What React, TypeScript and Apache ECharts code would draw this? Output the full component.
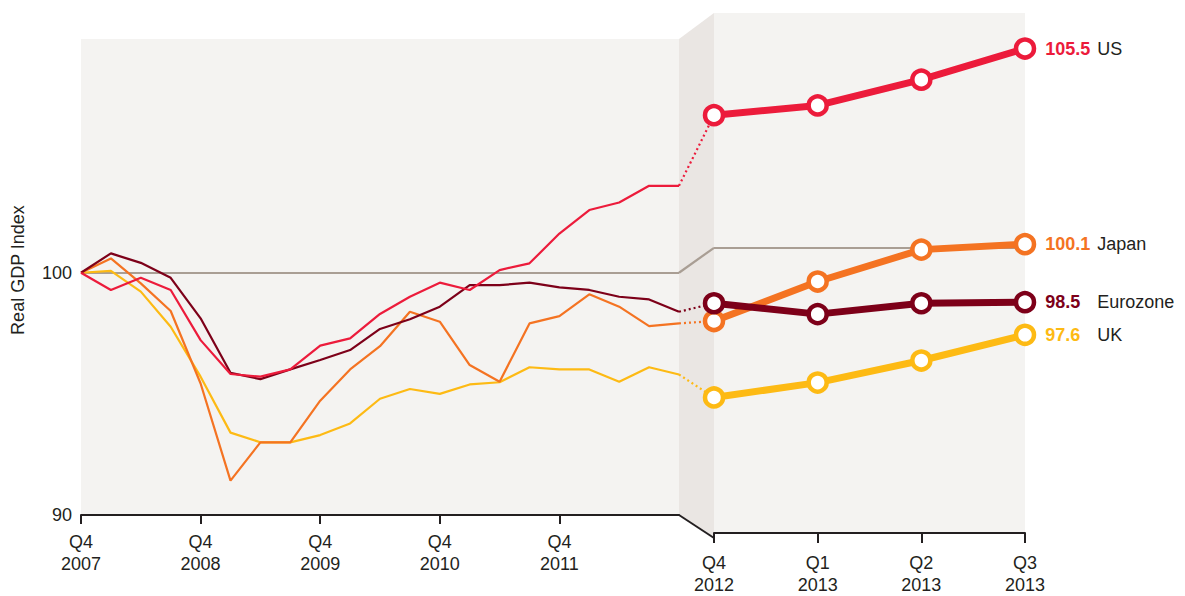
import React, { useEffect, useRef } from 'react';
import * as echarts from 'echarts';

// ---- Data ----
const leftQuarters = [
  'Q4\n2007', 'Q1\n2008', 'Q2\n2008', 'Q3\n2008', 'Q4\n2008',
  'Q1\n2009', 'Q2\n2009', 'Q3\n2009', 'Q4\n2009',
  'Q1\n2010', 'Q2\n2010', 'Q3\n2010', 'Q4\n2010',
  'Q1\n2011', 'Q2\n2011', 'Q3\n2011', 'Q4\n2011',
  'Q1\n2012', 'Q2\n2012', 'Q3\n2012', 'Q4\n2012',
];
const rightQuarters = ['Q4\n2012', 'Q1\n2013', 'Q2\n2013', 'Q3\n2013'];
const yTickValues = [90, 100];
const baselineValue = 100;

const usLeft = [100, 99.29, 99.79, 99.29, 97.22, 95.82, 95.71, 96.01, 96.99, 97.29, 98.3, 99.01, 99.59, 99.29, 100.11, 100.39, 101.62, 102.59, 102.9, 103.59, 103.59];
const eurozoneLeft = [100, 100.8, 100.41, 99.79, 98.12, 95.87, 95.61, 96.01, 96.4, 96.81, 97.68, 98.08, 98.6, 99.49, 99.49, 99.59, 99.4, 99.29, 99.01, 98.9, 98.39];
const japanLeft = [100, 100.59, 99.56, 98.42, 95.43, 91.42, 93.0, 93.0, 94.72, 96.01, 96.97, 98.39, 97.98, 96.19, 95.5, 97.91, 98.21, 99.11, 98.6, 97.8, 97.91];
const ukLeft = [100, 100.08, 99.22, 97.77, 95.71, 93.4, 93.0, 93.0, 93.3, 93.78, 94.8, 95.2, 95.0, 95.39, 95.48, 96.1, 96.01, 96.01, 95.5, 96.1, 95.8];

const usRight = [103.66, 103.93, 104.64, 105.5];
const japanRight = [97.98, 99.07, 99.95, 100.1];
const eurozoneRight = [98.47, 98.17, 98.47, 98.5];
const ukRight = [95.87, 96.28, 96.89, 97.6];

const seriesNames = ['UK', 'Japan', 'Eurozone', 'US'];

// ---- Styles ----
const COLORS: Record<string, string> = {
  US: '#EC1B3B',
  Japan: '#F47322',
  Eurozone: '#7D0019',
  UK: '#FDBA14',
};
const GRAY = '#A99E94';
const BG = '#F4F3F1';
const FOLD = '#EAE6E3';
const TEXT = '#231F20';
const FONT = '"Liberation Sans", Arial, Helvetica, sans-serif';
const FS = 18;

const G0 = { left: 81, top: 39, width: 598, height: 476 };
const G1 = { left: 714, top: 13, width: 311, height: 525 };

export default function App() {
  const ref = useRef<HTMLDivElement>(null);

  useEffect(() => {
    if (!ref.current) return;
    const chart = echarts.init(ref.current, null, { renderer: 'svg' });

    const leftData: Record<string, number[]> = { US: usLeft, Japan: japanLeft, Eurozone: eurozoneLeft, UK: ukLeft };
    const rightData: Record<string, number[]> = { US: usRight, Japan: japanRight, Eurozone: eurozoneRight, UK: ukRight };

    const tickFn = (i: number) => i % 4 === 0 && i < leftQuarters.length - 1;

    const series: any[] = [];
    seriesNames.forEach((name, k) => {
      const color = COLORS[name];
      const left: any = {
        type: 'line',
        name: name + ' left',
        xAxisIndex: 0,
        yAxisIndex: 0,
        data: leftData[name],
        symbol: 'none',
        lineStyle: { color, width: 2.2 },
        z: 3 + k,
      };
      if (k === 0) {
        left.markLine = {
          silent: true,
          symbol: 'none',
          label: { show: false },
          lineStyle: { color: GRAY, width: 2.2, type: 'solid' },
          data: [{ yAxis: baselineValue }],
          z: 2,
        };
      }
      series.push(left);

      const r = rightData[name];
      const right: any = {
        type: 'line',
        name: name + ' right',
        xAxisIndex: 1,
        yAxisIndex: 1,
        symbol: 'circle',
        symbolSize: 18,
        showSymbol: true,
        itemStyle: { color: '#ffffff', borderColor: color, borderWidth: 4.5 },
        lineStyle: { color, width: 7 },
        z: 10 + k,
        data: r.map((v, i) =>
          i === r.length - 1
            ? {
                value: v,
                label: {
                  show: true,
                  position: 'right',
                  distance: 9,
                  formatter: `{v|${v.toFixed(1)}}{n|${name}}`,
                  rich: {
                    v: { color, fontWeight: 'bold', fontSize: FS, fontFamily: FONT, width: 52 },
                    n: { color: TEXT, fontSize: FS, fontFamily: FONT },
                  },
                },
              }
            : v
        ),
      };
      if (k === 0) {
        right.markLine = {
          silent: true,
          symbol: 'none',
          label: { show: false },
          lineStyle: { color: GRAY, width: 2.2, type: 'solid' },
          data: [{ yAxis: baselineValue }],
          z: 2,
        };
      }
      series.push(right);
    });

    const option: any = {
      animation: false,
      textStyle: { fontFamily: FONT },
      grid: [
        { ...G0, show: true, backgroundColor: BG, borderWidth: 0, containLabel: false },
        { ...G1, show: true, backgroundColor: BG, borderWidth: 0, containLabel: false },
      ],
      xAxis: [
        {
          type: 'category',
          gridIndex: 0,
          data: leftQuarters,
          boundaryGap: false,
          axisLine: { lineStyle: { color: TEXT, width: 2 } },
          axisTick: { interval: tickFn, length: 9, lineStyle: { color: TEXT, width: 2 } },
          axisLabel: { interval: tickFn, color: TEXT, fontSize: FS, lineHeight: 22, margin: 16, fontFamily: FONT },
          splitLine: { show: false },
        },
        {
          type: 'category',
          gridIndex: 1,
          data: rightQuarters,
          boundaryGap: false,
          axisLine: { lineStyle: { color: TEXT, width: 2 } },
          axisTick: { interval: 0, length: 10, lineStyle: { color: TEXT, width: 2 } },
          axisLabel: { interval: 0, color: TEXT, fontSize: FS, lineHeight: 22, margin: 19, fontFamily: FONT },
          splitLine: { show: false },
        },
      ],
      yAxis: [
        {
          type: 'value',
          gridIndex: 0,
          min: 90,
          max: 109.65,
          interval: 10,
          axisLine: { show: false },
          axisTick: { show: false },
          splitLine: { show: false },
          axisLabel: {
            formatter: (v: number) => (yTickValues.includes(v) ? String(v) : ''),
            color: TEXT,
            fontSize: FS,
            margin: 9,
            fontFamily: FONT,
          },
        },
        {
          type: 'value',
          gridIndex: 1,
          min: 92.13,
          max: 106.48,
          show: false,
          splitLine: { show: false },
        },
      ],
      series,
    };

    chart.setOption(option);

    // Connectors across the fold, computed through the axes
    const lastIdx = leftQuarters.length - 1;
    const pL = (v: number) => chart.convertToPixel({ xAxisIndex: 0, yAxisIndex: 0 }, [lastIdx, v]) as number[];
    const pR = (v: number) => chart.convertToPixel({ xAxisIndex: 1, yAxisIndex: 1 }, [0, v]) as number[];

    const x0 = G0.left + G0.width;
    const x1 = G1.left;
    const graphics: any[] = [
      {
        type: 'polygon',
        silent: true,
        z: 0,
        shape: {
          points: [
            [x0, G0.top],
            [x1, G1.top],
            [x1, G1.top + G1.height],
            [x0, G0.top + G0.height],
          ],
        },
        style: { fill: FOLD },
      },
      {
        type: 'line',
        silent: true,
        z: 1,
        shape: { x1: x0, y1: G0.top + G0.height, x2: x1, y2: G1.top + G1.height },
        style: { stroke: TEXT, lineWidth: 2 },
      },
    ];
    const gL = pL(baselineValue);
    const gR = pR(baselineValue);
    graphics.push({
      type: 'line',
      silent: true,
      z: 1,
      shape: { x1: gL[0], y1: gL[1], x2: gR[0], y2: gR[1] },
      style: { stroke: GRAY, lineWidth: 2.2 },
    });
    seriesNames.forEach((name) => {
      const a = pL(leftData[name][lastIdx]);
      const b = pR(rightData[name][0]);
      graphics.push({
        type: 'line',
        silent: true,
        z: 1,
        shape: { x1: a[0], y1: a[1], x2: b[0], y2: b[1] },
        style: { stroke: COLORS[name], lineWidth: 2.2, lineDash: [2, 3] },
      });
    });
    graphics.push({
      type: 'text',
      silent: true,
      x: 18,
      y: 270,
      rotation: Math.PI / 2,
      style: {
        text: 'Real GDP Index',
        fill: TEXT,
        fontSize: FS,
        fontFamily: FONT,
        align: 'center',
        verticalAlign: 'middle',
      },
    });
    chart.setOption({ graphic: graphics });

    return () => chart.dispose();
  }, []);

  return (
    <div
      ref={ref}
      style={{ position: 'fixed', left: 0, top: 0, width: 1185, height: 596, background: '#ffffff' }}
    />
  );
}
